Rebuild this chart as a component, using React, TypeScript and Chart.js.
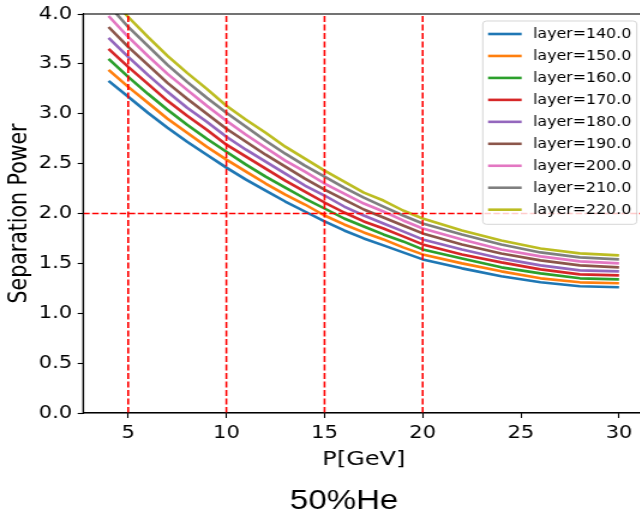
import React, { useEffect, useRef } from "react";
import { Chart, registerables } from "chart.js";

Chart.register(...registerables);

// ---- data ----
const P = [4, 5, 6, 7, 8, 9, 10, 11, 12, 13, 14, 15, 16, 17, 18, 19, 20, 22, 24, 26, 28, 30];

const layerLabels = [
  "layer=140.0",
  "layer=150.0",
  "layer=160.0",
  "layer=170.0",
  "layer=180.0",
  "layer=190.0",
  "layer=200.0",
  "layer=210.0",
  "layer=220.0",
];

const sp140 = [3.33, 3.17, 3.01, 2.86, 2.72, 2.59, 2.46, 2.34, 2.23, 2.12, 2.02, 1.92, 1.83, 1.75, 1.68, 1.61, 1.54, 1.45, 1.37, 1.31, 1.27, 1.26];
const sp150 = [3.44, 3.27, 3.11, 2.95, 2.81, 2.67, 2.54, 2.42, 2.30, 2.19, 2.09, 1.98, 1.89, 1.81, 1.74, 1.66, 1.59, 1.50, 1.42, 1.35, 1.31, 1.30];
const sp160 = [3.55, 3.37, 3.20, 3.04, 2.89, 2.75, 2.62, 2.49, 2.37, 2.26, 2.15, 2.05, 1.95, 1.87, 1.79, 1.72, 1.64, 1.55, 1.46, 1.40, 1.35, 1.34];
const sp170 = [3.65, 3.47, 3.30, 3.13, 2.98, 2.84, 2.69, 2.57, 2.45, 2.33, 2.22, 2.11, 2.01, 1.92, 1.85, 1.77, 1.69, 1.59, 1.51, 1.44, 1.39, 1.38];
const sp180 = [3.76, 3.57, 3.39, 3.22, 3.06, 2.92, 2.77, 2.64, 2.52, 2.40, 2.28, 2.18, 2.07, 1.98, 1.90, 1.82, 1.74, 1.64, 1.55, 1.48, 1.43, 1.42];
const sp190 = [3.87, 3.67, 3.49, 3.31, 3.15, 3.00, 2.85, 2.72, 2.59, 2.47, 2.35, 2.24, 2.14, 2.04, 1.96, 1.88, 1.80, 1.69, 1.60, 1.53, 1.48, 1.46];
const sp200 = [3.98, 3.77, 3.58, 3.40, 3.24, 3.08, 2.93, 2.79, 2.66, 2.53, 2.42, 2.30, 2.20, 2.10, 2.02, 1.93, 1.85, 1.74, 1.64, 1.57, 1.52, 1.50];
const sp210 = [4.09, 3.87, 3.68, 3.49, 3.32, 3.16, 3.01, 2.87, 2.73, 2.60, 2.48, 2.37, 2.26, 2.16, 2.07, 1.98, 1.90, 1.79, 1.69, 1.61, 1.56, 1.54];
const sp220 = [4.19, 3.97, 3.77, 3.58, 3.41, 3.25, 3.08, 2.94, 2.81, 2.67, 2.55, 2.43, 2.32, 2.21, 2.13, 2.03, 1.95, 1.83, 1.73, 1.65, 1.60, 1.58];

const colors = ["#1f77b4", "#ff7f0e", "#2ca02c", "#d62728", "#9467bd", "#8c564b", "#e377c2", "#7f7f7f", "#bcbd22"];

const xTicks = [5, 10, 15, 20, 25, 30];
const yTicks = [0, 0.5, 1.0, 1.5, 2.0, 2.5, 3.0, 3.5, 4.0];
const vLines = [5, 10, 15, 20];
const hLine = 2.0;

const X_MIN = 2.7;
const X_MAX = 31.3;
const Y_MIN = 0;
const Y_MAX = 4;

const xTitle = "P[GeV]";
const yTitle = "Separation Power";
const figTitle = "50%He";

const FAMILY = "'DejaVu Sans', sans-serif";

export default function App() {
  const ref = useRef<HTMLCanvasElement>(null);

  useEffect(() => {
    const canvas = ref.current;
    if (!canvas) return;
    const series = [sp140, sp150, sp160, sp170, sp180, sp190, sp200, sp210, sp220];

    const datasets: any[] = series.map((vals, i) => ({
      label: layerLabels[i],
      data: P.map((p, j) => ({ x: p, y: vals[j] })),
      borderColor: colors[i],
      backgroundColor: colors[i],
      borderWidth: 2.6,
      borderJoinStyle: "round",
      pointRadius: 0,
      tension: 0,
      fill: false,
      order: 20 - i,
    }));
    vLines.forEach((v) =>
      datasets.push({
        label: "",
        guide: true,
        data: [
          { x: v, y: Y_MIN },
          { x: v, y: Y_MAX },
        ],
        borderColor: "#ff0000",
        borderWidth: 1.6,
        borderDash: [6, 2.5],
        pointRadius: 0,
        fill: false,
        order: 0,
      })
    );
    datasets.push({
      label: "",
      guide: true,
      data: [
        { x: X_MIN, y: hLine },
        { x: X_MAX, y: hLine },
      ],
      borderColor: "#ff0000",
      borderWidth: 1.6,
      borderDash: [5.5, 2.1],
      pointRadius: 0,
      fill: false,
      order: 0,
    });

    const overlay = {
      id: "overlay",
      afterDatasetsDraw(chart: any) {
        const { ctx, chartArea: a } = chart;
        ctx.save();
        ctx.strokeStyle = "#000";
        ctx.lineWidth = 1.1;
        ctx.strokeRect(a.left, a.top, a.right - a.left, a.bottom - a.top);
        ctx.restore();
      },
      afterDraw(chart: any) {
        const { ctx } = chart;
        ctx.save();
        // legend box
        const lx = 402.3, ly = 21, lw = 128.3, lh = 203.3, r = 3;
        ctx.beginPath();
        ctx.moveTo(lx + r, ly);
        ctx.lineTo(lx + lw - r, ly);
        ctx.quadraticCurveTo(lx + lw, ly, lx + lw, ly + r);
        ctx.lineTo(lx + lw, ly + lh - r);
        ctx.quadraticCurveTo(lx + lw, ly + lh, lx + lw - r, ly + lh);
        ctx.lineTo(lx + r, ly + lh);
        ctx.quadraticCurveTo(lx, ly + lh, lx, ly + lh - r);
        ctx.lineTo(lx, ly + r);
        ctx.quadraticCurveTo(lx, ly, lx + r, ly);
        ctx.closePath();
        ctx.fillStyle = "rgba(255,255,255,0.8)";
        ctx.fill();
        ctx.strokeStyle = "rgba(204,204,204,0.8)";
        ctx.lineWidth = 1;
        ctx.stroke();

        const items = chart.data.datasets.filter((d: any) => !d.guide);
        ctx.font = `13.2px ${FAMILY}`;
        ctx.textBaseline = "middle";
        ctx.textAlign = "left";
        items.forEach((d: any, i: number) => {
          const y = 34 + i * 21.96;
          ctx.beginPath();
          ctx.strokeStyle = d.borderColor;
          ctx.lineWidth = 2.6;
          ctx.moveTo(406.7, y);
          ctx.lineTo(434.7, y);
          ctx.stroke();
          ctx.fillStyle = "#000";
          ctx.fillText(d.label, 444.2, y + 0.5);
        });

        // figure title
        ctx.font = "27.5px 'Liberation Sans', Arial, sans-serif";
        ctx.textAlign = "center";
        ctx.textBaseline = "alphabetic";
        ctx.fillStyle = "#000";
        ctx.fillText(figTitle, 286.7, 509);
        ctx.restore();
      },
    };

    const chart = new Chart(canvas, {
      type: "line",
      data: { datasets },
      options: {
        responsive: false,
        animation: false,
        events: [],
        layout: { padding: { left: 0, right: 12.9, top: 14, bottom: 0 } },
        plugins: {
          legend: { display: false },
          title: { display: false },
          tooltip: { enabled: false },
        },
        scales: {
          x: {
            type: "linear",
            min: X_MIN,
            max: X_MAX,
            afterBuildTicks: (s: any) => {
              s.ticks = xTicks.map((v) => ({ value: v }));
            },
            afterFit: (s: any) => {
              s.height = 106;
              s.paddingLeft = 0;
              s.paddingRight = 0;
            },
            ticks: {
              font: { family: FAMILY, size: 17.5 },
              color: "#000",
              padding: 5,
              maxRotation: 0,
              autoSkip: false,
              callback: (v: any) => String(v),
            },
            grid: {
              drawOnChartArea: false,
              drawTicks: true,
              tickLength: 5,
              tickWidth: 1.1,
              tickColor: "#000",
              color: "#000",
            },
            border: { display: true, color: "#000", width: 1.1 },
            title: {
              display: true,
              text: xTitle,
              font: { family: FAMILY, size: 20 },
              color: "#000",
              padding: { top: 0, bottom: 47 },
            },
          },
          y: {
            type: "linear",
            min: Y_MIN,
            max: Y_MAX,
            afterBuildTicks: (s: any) => {
              s.ticks = yTicks.map((v) => ({ value: v }));
            },
            afterFit: (s: any) => {
              s.width = 69.2;
              s.paddingTop = 0;
              s.paddingBottom = 0;
            },
            ticks: {
              font: { family: FAMILY, size: 17.5 },
              color: "#000",
              padding: 4.5,
              callback: (v: any) => Number(v).toFixed(1),
            },
            grid: {
              drawOnChartArea: false,
              drawTicks: true,
              tickLength: 4.5,
              tickWidth: 1.1,
              tickColor: "#000",
              color: "#000",
            },
            border: { display: true, color: "#000", width: 1.1 },
            title: {
              display: true,
              text: yTitle,
              font: { family: FAMILY, size: 20.5 },
              color: "#000",
              padding: { top: 4.5, bottom: 0 },
            },
          },
        },
      },
      plugins: [overlay],
    } as any);

    return () => chart.destroy();
  }, []);

  return (
    <div
      style={{
        position: "fixed",
        left: 0,
        top: 0,
        width: 640,
        height: 519,
        overflow: "hidden",
        background: "#fff",
      }}
    >
      <canvas
        ref={ref}
        width={550}
        height={519}
        style={{ transform: "scaleX(1.2)", transformOrigin: "0 0", display: "block" }}
      />
    </div>
  );
}
